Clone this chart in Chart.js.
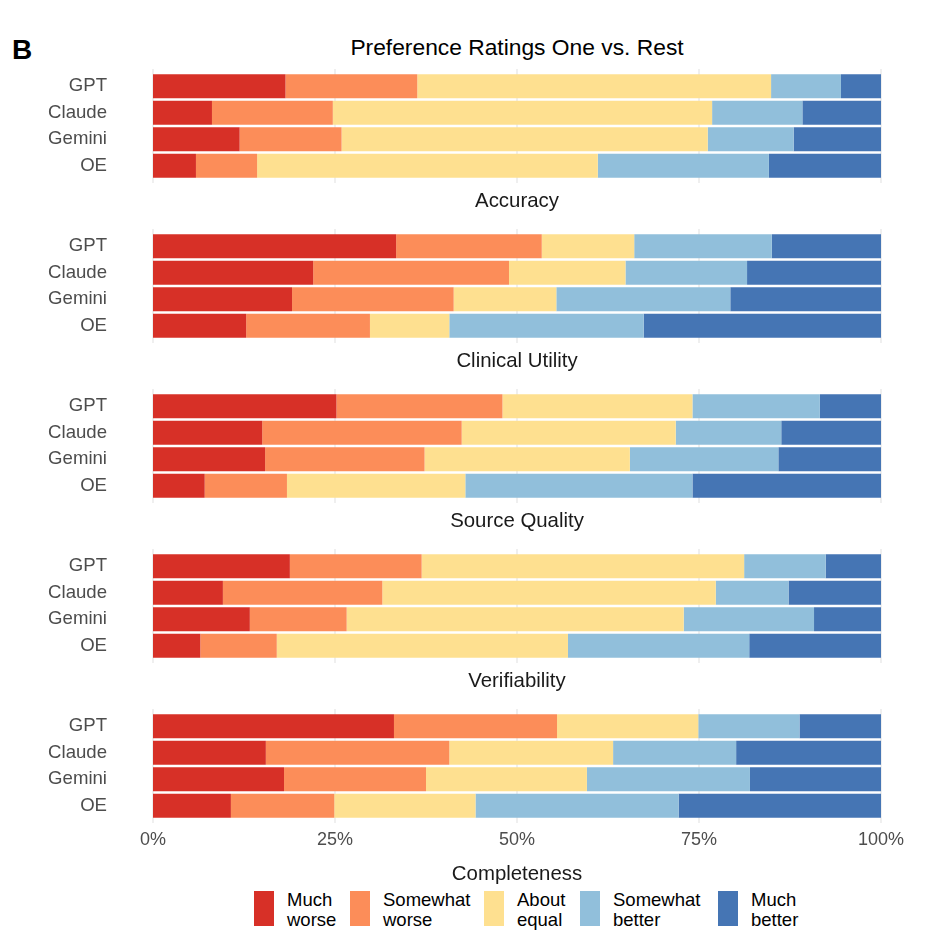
<!DOCTYPE html>
<html><head><meta charset="utf-8">
<script src="https://cdn.jsdelivr.net/npm/chart.js@4.4.1/dist/chart.umd.min.js"></script>
<style>
body{margin:0;background:#fff;width:950px;height:940px;position:relative;font-family:"Liberation Sans",Arial,Helvetica,sans-serif;overflow:hidden}
.t{position:absolute;white-space:nowrap;transform:translate(-50%,-50%);line-height:1}
canvas{position:absolute;left:0}
.lg{position:absolute;top:891px;height:35px}
.lg .k{position:absolute;left:0;top:0;width:20px;height:35px}
.lg .l{position:absolute;left:33px;top:-1px;font-size:18.5px;line-height:20px;color:#000;white-space:nowrap}
</style></head><body>
<div class="t" style="left:22px;top:50px;font-size:28px;font-weight:bold;color:#000">B</div>
<div class="t" style="left:517px;top:47px;font-size:22.8px;color:#000">Preference Ratings One vs. Rest</div>
<div id="root"></div>
<script>
const models = ['GPT','Claude','Gemini','OE'];
const ratings = ['Much worse','Somewhat worse','About equal','Somewhat better','Much better'];
const legendLines = [['Much','worse'],['Somewhat','worse'],['About','equal'],['Somewhat','better'],['Much','better']];
const colors = ['#d73027','#fc8d59','#fee090','#91bfdb','#4575b4'];
const panelTitles = ['Accuracy','Clinical Utility','Source Quality','Verifiability','Completeness'];
const xTicks = [0,25,50,75,100];

// rows = models (GPT, Claude, Gemini, OE); columns = ratings (% of responses)
const accuracy = [
  [18.2,18.1,48.6, 9.6, 5.5],
  [ 8.1,16.6,52.1,12.4,10.8],
  [11.9,14.0,50.3,11.8,12.0],
  [ 5.9, 8.4,46.8,23.5,15.4]
];
const clinicalUtility = [
  [33.4,20.0,12.7,18.9,15.0],
  [22.0,26.9,16.0,16.7,18.4],
  [19.1,22.2,14.1,23.9,20.7],
  [12.8,17.0,10.9,26.7,32.6]
];
const sourceQuality = [
  [25.2,22.8,26.1,17.5, 8.4],
  [15.0,27.4,29.4,14.5,13.7],
  [15.4,21.9,28.2,20.4,14.1],
  [ 7.1,11.3,24.5,31.2,25.9]
];
const verifiability = [
  [18.8,18.1,44.3,11.2, 7.6],
  [ 9.6,21.9,45.8,10.0,12.7],
  [13.3,13.3,46.3,17.9, 9.2],
  [ 6.5,10.5,40.0,24.9,18.1]
];
const completeness = [
  [33.1,22.4,19.4,13.9,11.2],
  [15.5,25.2,22.5,16.9,19.9],
  [18.0,19.5,22.1,22.4,18.0],
  [10.7,14.2,19.4,27.9,27.8]
];
const panels = [accuracy, clinicalUtility, sourceQuality, verifiability, completeness];

const FONT = '"Liberation Sans", Arial, Helvetica, sans-serif';
const root = document.getElementById('root');

const gridPlugin = {
  id:'extGrid',
  beforeDatasetsDraw(chart){
    const {ctx, chartArea:a} = chart; const x = chart.scales.x;
    ctx.save(); ctx.strokeStyle='#ebebeb'; ctx.lineWidth=1.6;
    xTicks.forEach(v=>{const px=x.getPixelForValue(v); ctx.beginPath(); ctx.moveTo(px,a.top-4); ctx.lineTo(px,a.bottom+4); ctx.stroke();});
    ctx.restore();
  }
};

const AREA_TOP = 73, AREA_H = 106, STEP = 160, PAD = 12;
panels.forEach((panel,i)=>{
  const last = i === panels.length-1;
  const xh = last ? 32 : 0;
  const cv = document.createElement('canvas');
  cv.width = 950; cv.height = AREA_H + 2*PAD + xh;
  cv.style.top = (AREA_TOP + STEP*i - PAD) + 'px';
  root.appendChild(cv);
  new Chart(cv, {
    type:'bar',
    data:{
      labels: models,
      datasets: ratings.map((r,k)=>({
        label:r, data: panel.map(row=>row[k]), backgroundColor: colors[k],
        borderWidth:0, barPercentage:0.9, categoryPercentage:1
      }))
    },
    options:{
      indexAxis:'y', responsive:false, animation:false,
      layout:{padding:{top:PAD,bottom:PAD,left:0,right:69}},
      plugins:{legend:{display:false}, tooltip:{enabled:false}, title:{display:false}},
      scales:{
        x:{stacked:true,min:0,max:100,
           ticks:{display:last,stepSize:25,callback:v=>v+'%',color:'#4d4d4d',font:{size:18,family:FONT},padding:10,maxRotation:0},
           grid:{display:false,drawTicks:false}, border:{display:false},
           afterFit:s=>{s.height = xh;}},
        y:{stacked:true,
           ticks:{color:'#4d4d4d',font:{size:18.6,family:FONT},padding:0},
           grid:{display:false,drawTicks:true,tickLength:46}, border:{display:false},
           afterFit:s=>{s.width = 153;}}
      }
    },
    plugins:[gridPlugin]
  });
  const t = document.createElement('div');
  t.className='t'; t.textContent = panelTitles[i];
  t.style.cssText += 'font-size:20.4px;color:#1a1a1a;left:517px;top:'+(last?873:(200+STEP*i))+'px';
  document.body.appendChild(t);
});

const legendX = [254,350,484,580,718];
ratings.forEach((r,k)=>{
  const d = document.createElement('div'); d.className='lg'; d.style.left = legendX[k]+'px';
  d.innerHTML = '<div class="k" style="background:'+colors[k]+'"></div><div class="l">'+legendLines[k].join('<br>')+'</div>';
  document.body.appendChild(d);
});
</script>
</body></html>
